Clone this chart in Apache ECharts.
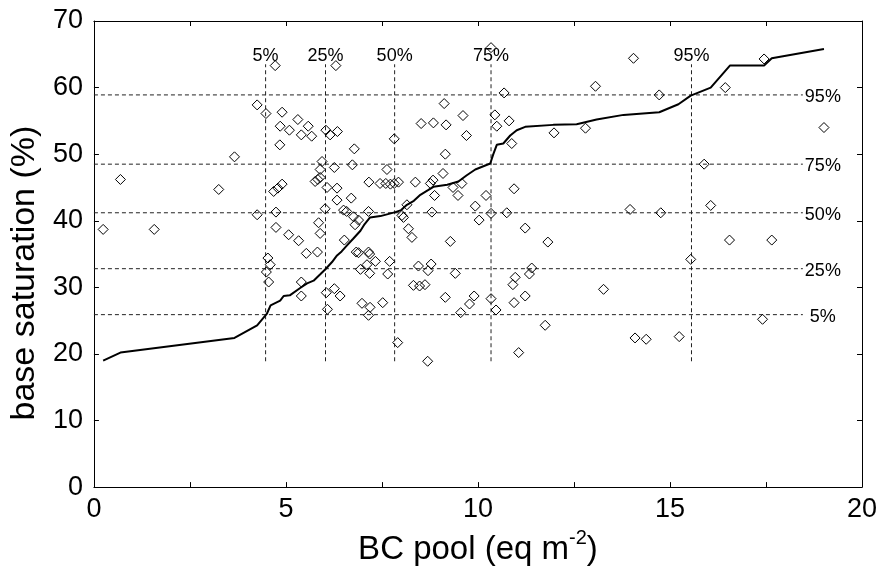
<!DOCTYPE html>
<html>
<head>
<meta charset="utf-8">
<script src="https://cdn.jsdelivr.net/npm/echarts@6/dist/echarts.min.js"></script>
<style>
html,body{margin:0;padding:0;background:#fff;}
#chart{width:881px;height:571px;}
</style>
</head>
<body>
<div id="chart"></div>
<script>
// Scatter: BC pool (eq m^-2) vs base saturation (%)
const bcPool = [0.24,0.69,1.57,3.25,3.66,4.25,4.48,4.72,4.90,4.85,4.84,4.68,4.79,4.90,4.25,4.74,4.74,4.53,4.59,4.49,4.55,
5.31,5.09,5.58,5.40,5.67,5.94,5.89,5.76,5.83,5.89,5.85,5.07,5.33,5.89,5.53,5.82,5.40,5.40,
6.30,6.04,6.15,6.34,6.78,6.73,6.26,6.07,6.33,6.33,6.70,6.02,6.50,6.58,6.76,6.89,6.80,6.52,6.83,6.89,6.94,6.05,6.26,6.41,6.08,6.98,
7.16,7.45,7.60,7.72,7.82,7.93,7.63,7.82,7.15,7.15,7.18,7.11,7.18,7.33,7.70,7.65,7.19,7.15,7.52,7.91,
8.02,8.06,8.15,8.19,8.28,8.37,8.52,8.84,8.76,8.83,8.87,8.80,8.45,8.78,8.70,8.32,8.48,8.62,8.69,
9.12,9.61,9.17,9.70,9.15,9.09,9.35,9.58,9.48,9.93,9.28,9.41,9.15,9.90,9.78,9.55,
10.34,10.68,10.44,10.49,10.81,10.88,10.94,10.21,10.34,10.75,10.03,10.97,10.91,10.34,10.47,10.94,
11.98,11.23,11.82,11.34,11.40,11.23,11.75,11.06,
12.80,13.06,14.05,14.72,13.96,14.76,13.27,14.09,14.38,15.24,15.54,15.89,16.06,16.44,16.55,17.65,17.45,17.41,19.01];
const baseSat = [38.7,46.2,38.7,44.7,49.6,57.4,56.1,63.3,56.3,54.2,51.4,44.4,44.9,45.5,40.9,41.3,39.0,34.4,33.4,32.3,30.8,
55.2,53.6,54.2,52.9,52.7,48.9,47.7,45.9,46.2,46.5,39.7,37.9,37.0,38.1,35.1,35.3,30.8,28.7,
63.3,53.6,52.9,53.4,50.8,48.4,48.0,45.0,44.9,43.1,43.4,41.8,41.6,41.4,40.6,40.1,39.4,37.1,35.3,35.2,32.7,29.2,29.8,28.7,26.7,27.6,
45.8,45.6,45.6,45.5,45.6,45.8,47.7,52.3,41.4,35.3,35.0,33.4,32.1,33.9,33.9,32.0,27.0,25.8,27.7,21.7,
40.8,40.5,42.4,38.8,37.5,45.8,54.6,54.7,45.6,46.1,43.8,41.3,33.2,33.5,32.5,30.3,30.2,30.4,18.9,
57.6,55.8,54.4,52.8,50.0,47.1,45.0,45.6,43.8,42.2,36.9,32.1,28.5,28.7,27.5,26.2,
66.0,59.2,55.9,54.2,55.0,51.6,44.8,43.8,41.1,41.2,40.1,31.5,30.4,28.3,26.6,27.7,
53.2,38.9,36.8,32.0,32.9,28.7,24.3,20.2,
53.9,60.2,64.4,58.9,41.7,41.2,29.7,22.4,22.2,22.6,34.2,48.5,42.3,60.0,37.1,37.1,64.3,25.2,54.0];

// Quantile-quantile curve (sorted BC pool vs sorted base saturation)
const curveX = [0.24,0.69,3.66,4.25,4.50,4.60,4.85,4.94,5.10,5.37,5.55,5.72,5.90,6.04,6.20,6.33,6.45,6.59,6.75,6.94,7.05,7.19,7.46,7.85,8.00,8.15,8.33,8.50,8.70,8.84,9.20,9.49,9.70,9.93,10.32,10.40,10.49,10.66,10.84,11.01,11.23,11.96,12.57,13.09,13.79,14.72,15.22,15.54,16.06,16.56,17.45,17.65,19.01];
const curveY = [19.0,20.2,22.4,24.3,26.0,27.3,28.0,28.7,28.8,29.9,30.6,31.0,32.0,32.8,33.8,34.8,35.4,36.3,37.3,38.5,39.5,40.5,40.7,41.3,41.6,42.4,43.0,43.9,44.6,45.1,45.4,45.9,46.8,47.7,48.6,50.0,51.4,51.6,52.8,53.6,54.1,54.4,54.5,55.2,55.9,56.3,57.5,58.8,60.0,63.3,63.3,64.4,65.8];

// Quantiles
const qLabels = ['5%','25%','50%','75%','95%'];
const qX = [4.47, 6.03, 7.83, 10.34, 15.56];
const qY = [25.9, 32.8, 41.2, 48.5, 58.9];
const hLineStart = 0, hLineEnd = 18.46;
const vLineBottom = 18.9, vLineTop = 63.5;

const xTicks = {min:0, max:20, interval:2.5};
const yTicks = {min:0, max:70, interval:10};

const FONT = '"Liberation Sans", Arial, Helvetica, sans-serif';
const dashStyle = {color:'#222', width:1, type:[4,3]};

const series = [];
qY.forEach(function(y){
  series.push({type:'line', data:[[hLineStart,y],[hLineEnd,y]], symbol:'none', silent:true,
    lineStyle:dashStyle, z:1});
});
qX.forEach(function(x){
  series.push({type:'line', data:[[x,vLineBottom],[x,vLineTop]], symbol:'none', silent:true,
    lineStyle:dashStyle, z:1});
});
series.push({type:'scatter', data:bcPool.map(function(x,i){return [x, baseSat[i]];}),
  symbol:'diamond', symbolSize:10,
  itemStyle:{color:'rgba(255,255,255,0)', borderColor:'#000', borderWidth:1, opacity:1}, z:3});
series.push({type:'line', data:curveX.map(function(x,i){return [x, curveY[i]];}),
  symbol:'none', lineStyle:{color:'#000', width:2}, z:4});
// top labels
series.push({type:'scatter', symbolSize:0, silent:true, z:5, itemStyle:{opacity:1},
  data:qX.map(function(x,i){return {value:[x, vLineTop], name:qLabels[i]};}),
  label:{show:true, position:'top', distance:-1, formatter:'{b}', color:'#000', fontSize:18, fontFamily:FONT}});
// right labels
series.push({type:'scatter', symbolSize:0, silent:true, z:5, itemStyle:{opacity:1},
  data:qY.map(function(y,i){return {value:[hLineEnd, y], name:(qLabels[i].length<3?' ':'')+qLabels[i]};}),
  label:{show:true, position:'right', distance:2, offset:[0,2], formatter:'{b}', color:'#000', fontSize:18, fontFamily:FONT}});

const tickStyle = {show:true, inside:true, length:5, lineStyle:{color:'#000', width:1}};

const option = {
  animation:false,
  backgroundColor:'#fff',
  grid:{left:93.5, right:19, top:21, bottom:74.5, containLabel:false},
  xAxis:[{
    type:'value', min:xTicks.min, max:xTicks.max, interval:xTicks.interval, position:'bottom',
    axisLine:{show:true, onZero:false, lineStyle:{color:'#000', width:1}}, axisTick:tickStyle, splitLine:{show:false},
    axisLabel:{color:'#000', fontSize:27, fontFamily:FONT, margin:9,
      formatter:function(v){return (v % 5 === 0) ? String(v) : '';}},
    name:'{n|BC pool (eq m}{s|-2}{n|)}', nameLocation:'middle', nameGap:36,
    nameTextStyle:{color:'#000', fontFamily:FONT,
      rich:{n:{fontSize:33, lineHeight:38, fontFamily:FONT, color:'#000', verticalAlign:'bottom'},
            s:{fontSize:20, lineHeight:22, fontFamily:FONT, color:'#000', verticalAlign:'top'}}}
  },{
    type:'value', min:xTicks.min, max:xTicks.max, interval:xTicks.interval, position:'top',
    axisLine:{show:true, onZero:false, lineStyle:{color:'#000', width:1}}, axisTick:tickStyle, axisLabel:{show:false}, splitLine:{show:false}
  }],
  yAxis:[{
    type:'value', min:yTicks.min, max:yTicks.max, interval:yTicks.interval, position:'left',
    axisLine:{show:true, onZero:false, lineStyle:{color:'#000', width:1}}, axisTick:tickStyle, splitLine:{show:false},
    axisLabel:{color:'#000', fontSize:27, fontFamily:FONT, margin:11},
    name:'base saturation (%)', nameLocation:'middle', nameGap:50, nameRotate:90,
    nameTextStyle:{color:'#000', fontSize:34, fontFamily:FONT, padding:[0,38,0,0]}
  },{
    type:'value', min:yTicks.min, max:yTicks.max, interval:yTicks.interval, position:'right',
    axisLine:{show:true, onZero:false, lineStyle:{color:'#000', width:1}}, axisTick:tickStyle, axisLabel:{show:false}, splitLine:{show:false}
  }],
  series:series
};
const chart = echarts.init(document.getElementById('chart'), null, {renderer:'canvas'});
chart.setOption(option);
</script>
</body>
</html>
